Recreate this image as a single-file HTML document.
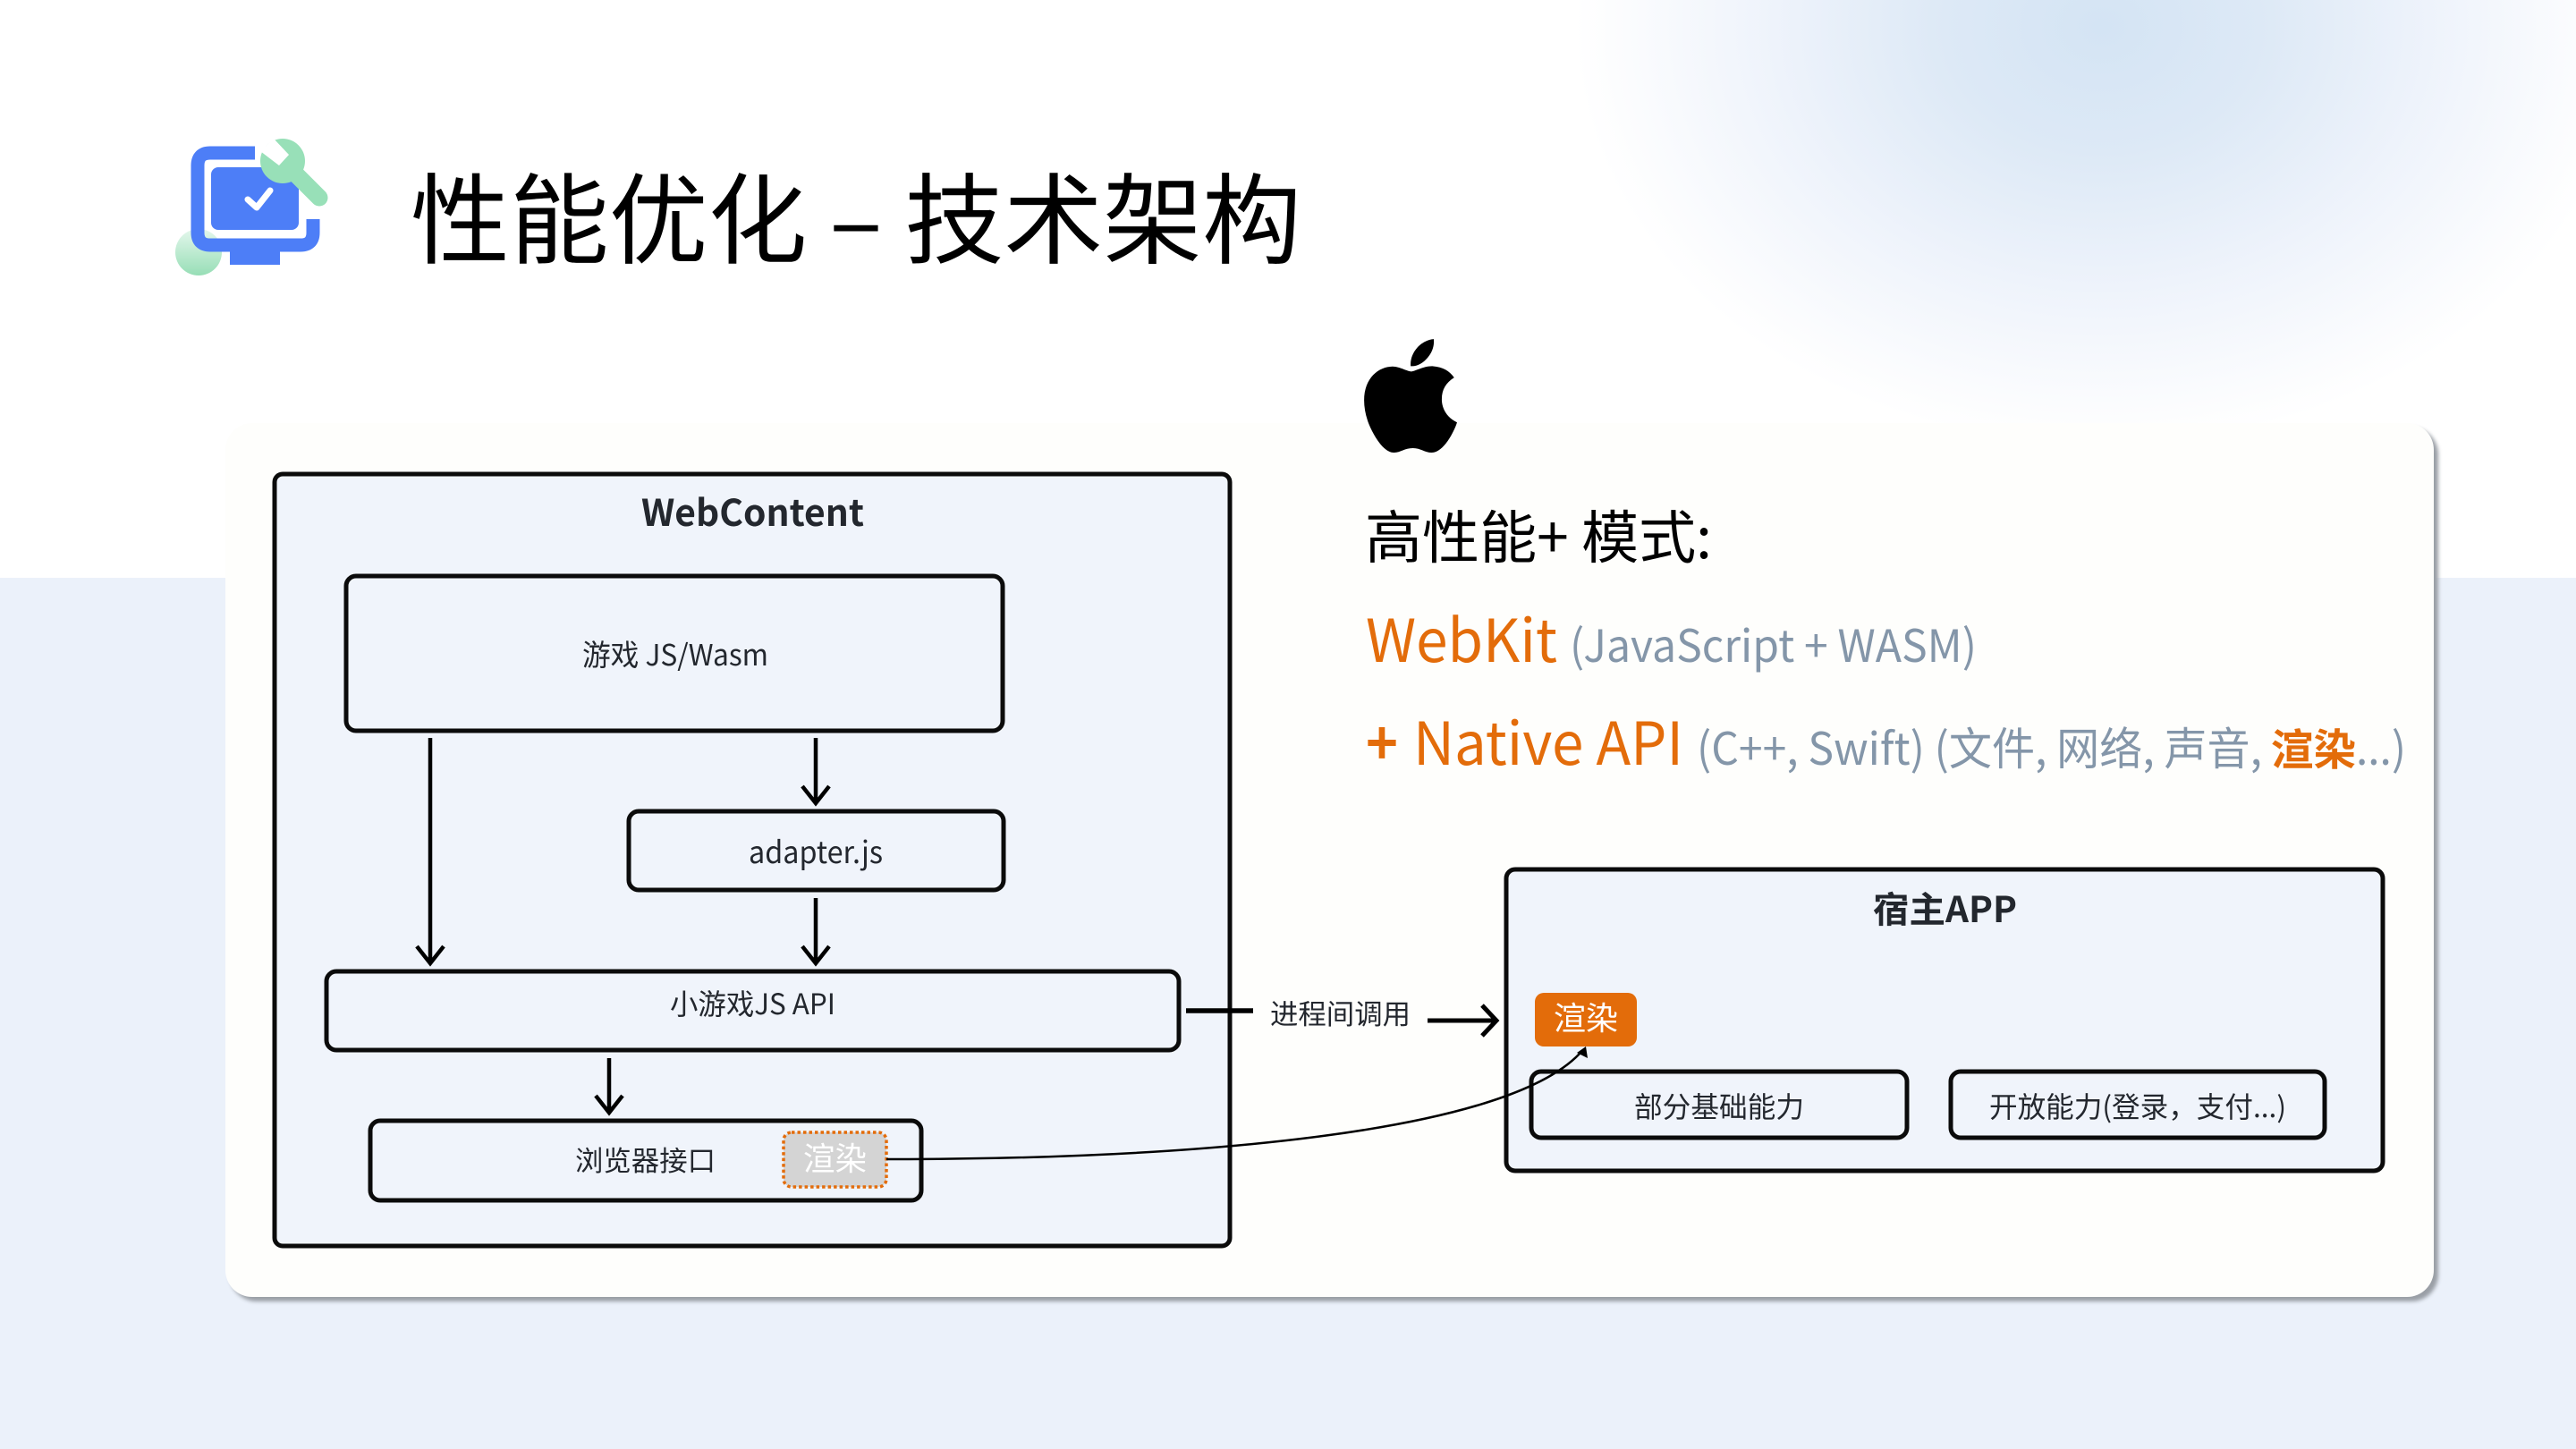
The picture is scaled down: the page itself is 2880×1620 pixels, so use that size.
<!DOCTYPE html>
<html lang="zh"><head><meta charset="utf-8"><title>性能优化 – 技术架构</title>
<style>
html,body{margin:0;padding:0;width:2880px;height:1620px;overflow:hidden;background:#fff}
.band{position:absolute;left:0;top:646px;width:2880px;height:974px;background:#ebf1fa}
.blob{position:absolute;left:0;top:0;width:2880px;height:646px;background:radial-gradient(ellipse 590px 470px at 2350px 30px,#d4e4f4 0%,#dde9f6 30%,#eef3fb 62%,#fbfcfe 90%,#ffffff 100%)}
.card{position:absolute;left:252px;top:473px;width:2469px;height:977px;border-radius:30px;background:#fefefc;box-shadow:5px 5px 4px #9a9fa6}
svg{position:absolute;left:0;top:0}
text{font-family:"Noto Sans CJK SC","Liberation Sans",sans-serif;fill:#23272e}
</style></head><body>
<div class="blob"></div><div class="band"></div><div class="card"></div>
<svg width="2880" height="1620" viewBox="0 0 2880 1620" xmlns="http://www.w3.org/2000/svg">
<defs>
<linearGradient id="g" x1="0" y1="0" x2="0" y2="1"><stop offset="0" stop-color="#e4f7ec"/><stop offset="1" stop-color="#97deb6"/></linearGradient>
</defs>
<!-- icon -->
<circle cx="222" cy="282" r="26" fill="url(#g)"/>
<path d="M285 171H235Q221 171 221 185V260Q221 274 235 274H336Q350 274 350 260V245" fill="none" stroke="#4d7ef7" stroke-width="15"/>
<rect x="257" y="281" width="56" height="15" fill="#4d7ef7"/>
<rect x="236" y="187" width="98" height="70" rx="8" fill="#4d7ef7"/>
<path d="M277 223L287 232L302 213" fill="none" stroke="#fff" stroke-width="7" stroke-linecap="round" stroke-linejoin="round"/>
<path d="M316 180L357 221" stroke="#98e0b8" stroke-width="19" stroke-linecap="round"/>
<circle cx="316" cy="180" r="25" fill="#98e0b8"/>
<polygon points="291,169 306,155 323,173 312,185" fill="#fff"/>
<!-- title -->
<text x="459" y="286" font-size="110" textLength="996" lengthAdjust="spacingAndGlyphs" style="fill:#000">性能优化 – 技术架构</text>
<!-- apple -->
<path transform="translate(1524 370) scale(.276 .2835)" fill="#000" d="M318.7 268.7c-.2-36.7 16.4-64.4 50-84.8-18.8-26.9-47.2-41.7-84.7-44.6-35.5-2.8-74.3 20.7-88.5 20.7-15 0-49.4-19.7-76.4-19.7C63.3 141.2 4 184.8 4 273.5q0 39.3 14.4 81.2c12.8 36.7 59 126.7 107.2 125.2 25.2-.6 43-17.9 75.8-17.9 31.8 0 48.3 17.9 76.4 17.9 48.6-.7 90.4-82.5 102.6-119.3-65.2-30.7-61.7-90-61.7-91.9zm-56.6-164.2c27.3-32.4 24.8-61.9 24-72.5-24.1 1.4-52 16.4-67.9 34.9-17.5 19.8-27.8 44.3-25.6 71.9 26.1 2 49.9-11.4 69.5-34.3z"/>
<!-- right text -->
<text x="1526" y="624" font-size="64" textLength="388" lengthAdjust="spacingAndGlyphs" style="fill:#000">高性能+ 模式:</text>
<text x="1527" y="740" font-size="66" textLength="214" lengthAdjust="spacingAndGlyphs" style="fill:#e36c0a">WebKit</text>
<text x="1755" y="740" font-size="50" textLength="455" lengthAdjust="spacingAndGlyphs" style="fill:#8496a9">(JavaScript + WASM)</text>
<text x="1527" y="855" font-size="66" font-weight="700" textLength="36" lengthAdjust="spacingAndGlyphs" style="fill:#e36c0a">+</text>
<text x="1580" y="855" font-size="66" textLength="302" lengthAdjust="spacingAndGlyphs" style="fill:#e36c0a">Native API</text>
<text x="1897" y="855" font-size="50" textLength="632" lengthAdjust="spacingAndGlyphs" style="fill:#8496a9">(C++, Swift) (文件, 网络, 声音,</text>
<text x="2539" y="855" font-size="48" font-weight="700" textLength="95" lengthAdjust="spacingAndGlyphs" style="fill:#e36c0a">渲染</text>
<text x="2634" y="855" font-size="50" textLength="56" lengthAdjust="spacingAndGlyphs" style="fill:#8496a9">...)</text>
<!-- WebContent -->
<g fill="#f0f4fb" stroke="#0b0b0b" stroke-width="5">
<rect x="307" y="530" width="1068" height="863" rx="9"/>
<rect x="387" y="644" width="734" height="173" rx="11"/>
<rect x="703" y="907" width="419" height="88" rx="11"/>
<rect x="365" y="1086" width="953" height="88" rx="11"/>
<rect x="414" y="1253" width="616" height="89" rx="11"/>
<rect x="1684" y="972" width="980" height="337" rx="10"/>
<rect x="1712" y="1198" width="420" height="74" rx="11"/>
<rect x="2181" y="1198" width="418" height="74" rx="11"/>
</g>
<text x="717" y="588" font-size="41" font-weight="700" textLength="249" lengthAdjust="spacingAndGlyphs">WebContent</text>
<text x="651" y="744" font-size="33" textLength="208" lengthAdjust="spacingAndGlyphs">游戏 JS/Wasm</text>
<text x="837" y="965" font-size="34" textLength="150" lengthAdjust="spacingAndGlyphs">adapter.js</text>
<text x="749" y="1134" font-size="32" textLength="185" lengthAdjust="spacingAndGlyphs">小游戏JS API</text>
<text x="643" y="1309" font-size="31" textLength="157" lengthAdjust="spacingAndGlyphs">浏览器接口</text>
<rect x="876" y="1266" width="115" height="61" rx="9" fill="#d4d4d4" stroke="#e36c0a" stroke-width="3.5" stroke-dasharray="3.5 3"/>
<text x="898" y="1308" font-size="36" textLength="71" lengthAdjust="spacingAndGlyphs" style="fill:#fff">渲染</text>
<!-- arrows -->
<g fill="none" stroke="#000" stroke-width="4.5">
<path d="M481 825V1076M466 1058L481 1077L496 1058"/>
<path d="M912 825V897M897 879L912 898L927 879"/>
<path d="M912 1004V1076M897 1058L912 1077L927 1058"/>
<path d="M681 1183V1243M666 1225L681 1244L696 1225"/>
<path d="M1326 1130H1401" stroke-width="5.5"/>
<path d="M1596 1141H1672M1657 1124L1673 1141L1657 1158" stroke-width="5"/>
<path d="M991 1296C1330 1296 1680 1268 1766 1178" stroke-width="2.5"/>
</g>
<polygon points="1773,1170 1775,1183 1763,1177" fill="#000"/>
<text x="1420" y="1145" font-size="31" textLength="157" lengthAdjust="spacingAndGlyphs">进程间调用</text>
<!-- host -->
<text x="2094" y="1031" font-size="40" font-weight="700" textLength="161" lengthAdjust="spacingAndGlyphs">宿主APP</text>
<rect x="1716" y="1110" width="114" height="60" rx="10" fill="#e36c0a"/>
<text x="1737" y="1151" font-size="36" textLength="72" lengthAdjust="spacingAndGlyphs" style="fill:#fff">渲染</text>
<text x="1827" y="1249" font-size="32" textLength="190" lengthAdjust="spacingAndGlyphs">部分基础能力</text>
<text x="2224" y="1249" font-size="32" textLength="332" lengthAdjust="spacingAndGlyphs">开放能力(登录，支付...)</text>
</svg>
</body></html>
